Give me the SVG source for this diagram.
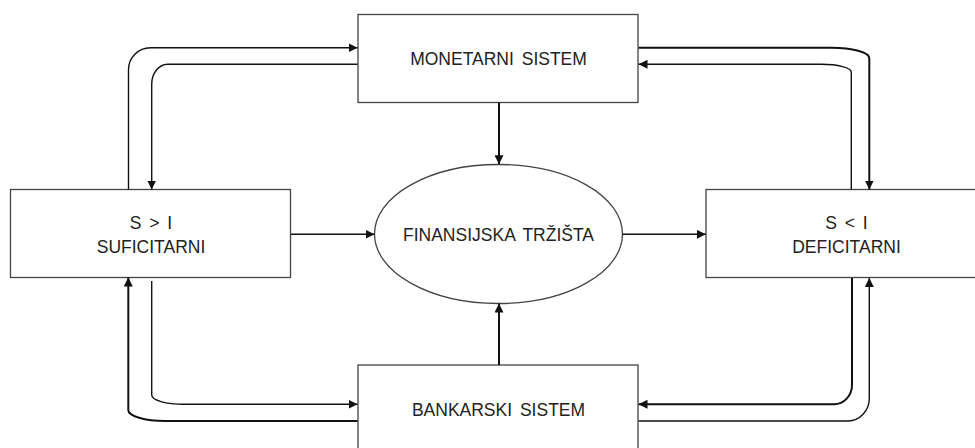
<svg xmlns="http://www.w3.org/2000/svg" width="975" height="448" viewBox="0 0 975 448">
<style>
.box{fill:#fff;stroke:#444;stroke-width:1.3}
.lbl{font-family:"Liberation Sans",Arial,sans-serif;font-size:17.5px;fill:#222;text-anchor:middle}
.c{fill:none;stroke:#111;stroke-width:1.4}
.t{stroke-width:2}
</style>
<defs>
<marker id="ah" viewBox="0 0 10 10" refX="10" refY="5" markerWidth="9" markerHeight="9" markerUnits="userSpaceOnUse" orient="auto">
<path d="M0,0 L10,5 L0,10 z" fill="#111"/>
</marker>
</defs>
<rect width="975" height="448" fill="#fff"/>
<g id="monetarni">
<rect class="box" x="358" y="14.5" width="280" height="88"/>
<text class="lbl" x="498.5" y="65" word-spacing="3">MONETARNI SISTEM</text>
</g>
<g id="suficitarni">
<rect class="box" x="10.5" y="189.5" width="280" height="88"/>
<text class="lbl" x="151" y="229" word-spacing="3">S &gt; I</text>
<text class="lbl" x="151" y="252.5">SUFICITARNI</text>
</g>
<g id="deficitarni">
<rect class="box" x="706" y="189.5" width="281" height="88"/>
<text class="lbl" x="846.5" y="229" word-spacing="3">S &lt; I</text>
<text class="lbl" x="846.5" y="252.5">DEFICITARNI</text>
</g>
<g id="bankarski">
<rect class="box" x="358" y="365" width="280" height="88"/>
<text class="lbl" x="498.5" y="415.5" word-spacing="3">BANKARSKI SISTEM</text>
</g>
<g id="finansijska">
<ellipse class="box" cx="498.5" cy="234" rx="124" ry="69.5"/>
<text class="lbl" x="498.5" y="240.5" word-spacing="3">FINANSIJSKA TRŽIŠTA</text>
</g>
<g id="connectors">
<path class="c" d="M128.5,189.5 V70 A22,22 0 0 1 150.5,47.7 H357.5" marker-end="url(#ah)"/>
<path class="c" d="M357.5,64.3 H168 A16,20 0 0 0 151.7,85 V189.5" marker-end="url(#ah)"/>
<path class="c t" d="M638.5,47.7 H831.5 A37.7,10.7 0 0 1 869.3,58.4 V189.5" marker-end="url(#ah)"/>
<path class="c" d="M851.3,189.5 V72 A30,7.7 0 0 0 821.5,64.3 H638.5" marker-end="url(#ah)"/>
<path class="c t" d="M357.5,421 H165 A36.7,11 0 0 1 128.3,410 V277.5" marker-end="url(#ah)"/>
<path class="c" d="M151.7,281 V395 A31.7,9.3 0 0 0 183.4,404.3 H357.5" marker-end="url(#ah)"/>
<path class="c t" d="M852,278 V385 A18,19.3 0 0 1 834,404.3 H638.5" marker-end="url(#ah)"/>
<path class="c" d="M638.5,421 H848 A21.3,22.7 0 0 0 869.3,398.3 V278" marker-end="url(#ah)"/>
<path class="c t" d="M499,102.5 V164.3" marker-end="url(#ah)"/>
<path class="c t" d="M499,365 V303.5" marker-end="url(#ah)"/>
<path class="c" d="M290.8,234.3 H374.5" marker-end="url(#ah)"/>
<path class="c" d="M622.5,234.3 H705.8" marker-end="url(#ah)"/>
</g>
</svg>
